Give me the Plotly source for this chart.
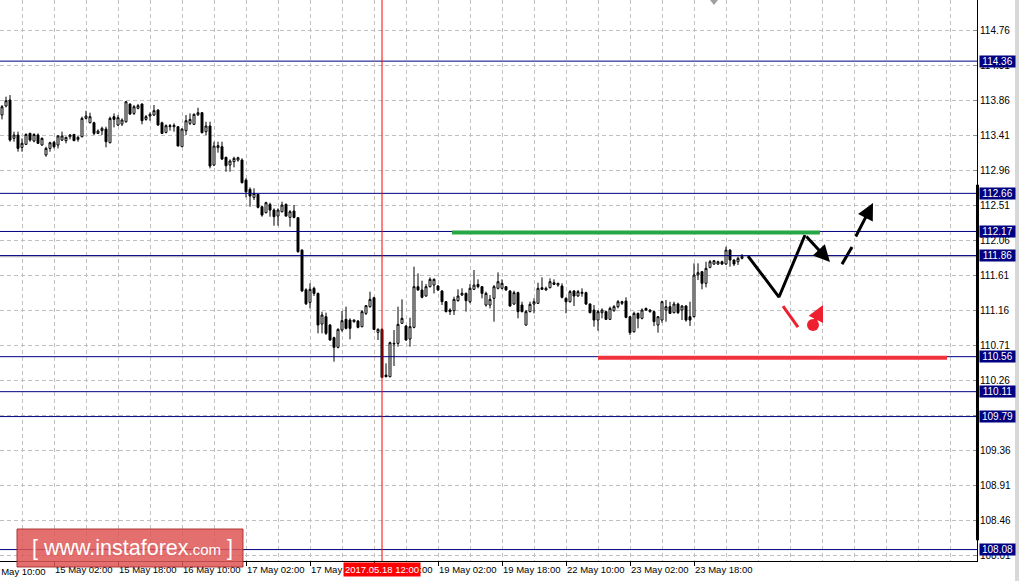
import plotly.graph_objects as go

# ---------------- data (USD/JPY H1) ----------------
open_ = [113.667,113.783,113.860,113.367,113.410,113.251,113.290,113.431,113.333,113.410,
         113.281,113.153,113.238,113.316,113.281,113.345,113.337,113.388,113.418,113.354,
         113.388,113.624,113.568,113.568,113.431,113.466,113.487,113.311,113.646,113.538,
         113.551,113.581,113.808,113.688,113.753,113.808,113.611,113.654,113.667,113.731,
         113.568,113.444,113.517,113.517,113.517,113.260,113.466,113.560,113.547,113.671,
         113.697,113.453,113.526,113.024,113.247,113.260,113.123,113.024,113.067,113.088,
         113.088,112.831,112.711,112.608,112.647,112.488,112.411,112.518,112.445,112.368,
         112.424,112.518,112.351,112.433,112.347,111.931,111.420,111.258,111.439,111.374,
         110.980,111.074,110.967,110.804,110.680,110.903,111.040,111.031,111.010,111.019,
         110.946,111.117,111.203,111.318,110.873,110.911,110.324,110.303,110.723,110.731,
         110.989,110.954,110.787,110.937,111.460,111.417,111.340,111.460,111.481,111.469,
         111.404,111.267,111.160,111.151,111.280,111.353,111.374,111.267,111.426,111.490,
         111.460,111.224,111.224,111.310,111.439,111.439,111.460,111.404,111.237,111.383,
         111.224,110.967,111.139,111.237,111.246,111.447,111.417,111.447,111.511,111.481,
         111.469,111.310,111.267,111.404,111.340,111.374,111.383,111.237,111.160,111.031,
         111.126,111.139,111.040,111.151,111.203,111.246,111.276,111.074,110.881,111.117,
         111.053,111.181,111.139,111.139,110.967,111.031,111.160,111.203,111.126,111.237,
         111.160,111.211,111.074,111.074,111.610,111.653,111.503,111.709,111.751,111.751,
         111.781,111.751,111.931,111.803,111.781,111.824]
high = [113.796,113.903,113.924,113.453,113.453,113.367,113.431,113.440,113.431,113.431,
        113.380,113.260,113.324,113.333,113.410,113.453,113.388,113.423,113.423,113.397,
        113.646,113.723,113.697,113.581,113.483,113.517,113.517,113.646,113.688,113.667,
        113.624,113.847,113.817,113.796,113.808,113.817,113.667,113.701,113.796,113.740,
        113.581,113.547,113.551,113.560,113.526,113.496,113.667,113.688,113.688,113.761,
        113.706,113.581,113.581,113.324,113.324,113.324,113.131,113.097,113.131,113.131,
        113.110,112.853,112.737,112.724,112.660,112.497,112.553,112.540,112.467,112.467,
        112.553,112.531,112.445,112.510,112.351,111.940,111.439,111.503,111.460,111.383,
        111.139,111.126,110.980,110.817,110.924,111.147,111.203,111.053,111.040,111.031,
        111.160,111.224,111.396,111.331,110.924,110.924,110.474,110.753,110.903,111.203,
        111.297,110.967,111.061,111.717,111.631,111.537,111.494,111.580,111.567,111.481,
        111.417,111.276,111.181,111.331,111.426,111.439,111.383,111.494,111.674,111.554,
        111.469,111.396,111.353,111.481,111.644,111.554,111.469,111.417,111.409,111.396,
        111.267,111.160,111.267,111.310,111.511,111.580,111.460,111.567,111.554,111.511,
        111.503,111.323,111.417,111.417,111.417,111.439,111.396,111.246,111.224,111.160,
        111.181,111.151,111.203,111.224,111.289,111.280,111.323,111.083,111.139,111.126,
        111.181,111.190,111.169,111.151,111.083,111.280,111.289,111.267,111.267,111.254,
        111.224,111.224,111.267,111.760,111.760,111.661,111.781,111.803,111.803,111.794,
        111.794,111.974,111.940,111.811,111.846,111.880]
low = [113.611,113.766,113.324,113.324,113.196,113.196,113.281,113.324,113.316,113.294,
       113.273,113.131,113.196,113.238,113.238,113.333,113.303,113.354,113.333,113.324,
       113.380,113.611,113.560,113.410,113.423,113.410,113.251,113.303,113.508,113.526,
       113.526,113.568,113.667,113.667,113.740,113.547,113.594,113.594,113.654,113.530,
       113.423,113.431,113.466,113.453,113.268,113.260,113.410,113.538,113.538,113.654,
       113.431,113.410,112.981,113.011,113.183,113.088,112.938,112.938,112.994,113.067,
       112.788,112.608,112.488,112.574,112.467,112.360,112.403,112.360,112.244,112.244,
       112.415,112.360,112.231,112.338,111.897,111.396,111.224,111.181,111.340,110.860,
       110.860,110.840,110.766,110.496,110.667,110.881,110.911,110.783,110.997,110.924,
       110.937,111.096,111.190,110.903,110.774,110.290,110.294,110.294,110.440,110.689,
       110.980,110.766,110.689,110.924,111.409,111.310,111.331,111.451,111.374,111.409,
       111.224,111.130,111.096,111.096,111.267,111.340,111.139,111.246,111.417,111.439,
       111.310,111.203,111.181,111.010,111.426,111.426,111.409,111.203,111.224,111.053,
       111.130,110.959,111.130,111.117,111.237,111.417,111.409,111.439,111.481,111.460,
       111.310,111.117,111.254,111.211,111.331,111.331,111.224,111.117,110.946,110.894,
       111.053,111.031,111.031,111.139,111.181,111.224,111.053,110.838,110.869,110.924,
       111.040,111.147,111.126,110.954,110.869,110.997,111.010,111.109,111.117,111.109,
       111.031,111.010,110.954,111.066,111.546,111.426,111.451,111.696,111.739,111.739,
       111.739,111.739,111.717,111.726,111.739,111.811]
close = [113.774,113.851,113.345,113.410,113.238,113.303,113.418,113.345,113.418,113.303,
         113.367,113.238,113.311,113.260,113.397,113.397,113.380,113.410,113.337,113.380,
         113.624,113.654,113.646,113.431,113.461,113.496,113.324,113.624,113.611,113.633,
         113.603,113.838,113.680,113.774,113.787,113.594,113.646,113.676,113.723,113.538,
         113.431,113.530,113.530,113.534,113.268,113.487,113.594,113.611,113.676,113.697,
         113.440,113.526,113.011,113.268,113.273,113.101,113.015,113.075,113.110,113.118,
         112.797,112.681,112.626,112.660,112.480,112.381,112.540,112.445,112.360,112.445,
         112.510,112.368,112.424,112.351,111.910,111.404,111.240,111.426,111.374,110.967,
         111.096,110.860,110.774,110.680,110.911,111.023,110.924,110.924,111.031,110.937,
         111.139,111.216,111.297,110.911,110.911,110.294,110.303,110.740,110.731,110.976,
         111.053,110.774,110.946,111.460,111.417,111.323,111.460,111.554,111.554,111.417,
         111.267,111.139,111.139,111.297,111.340,111.374,111.280,111.439,111.481,111.460,
         111.374,111.374,111.297,111.460,111.524,111.503,111.417,111.211,111.383,111.139,
         111.139,111.139,111.233,111.267,111.439,111.426,111.439,111.524,111.490,111.503,
         111.323,111.267,111.396,111.340,111.396,111.387,111.237,111.126,111.031,111.139,
         111.160,111.040,111.181,111.203,111.267,111.267,111.066,110.869,111.117,111.053,
         111.160,111.160,111.160,111.010,111.074,111.267,111.203,111.117,111.237,111.126,
         111.211,111.031,111.031,111.610,111.640,111.503,111.696,111.781,111.794,111.781,
         111.751,111.931,111.803,111.751,111.824,111.850]
bars = list(range(len(close)))          # one bar per hour

# time axis labels (bar index -> label)
tick_bars = [13, 29, 45, 61, 77, 93, 109, 125, 141, 157, 173]
tick_labels = ["15 May 02:00", "15 May 18:00", "16 May 10:00", "17 May 02:00",
               "17 May 18:00", "18 May 10:00", "19 May 02:00", "19 May 18:00",
               "22 May 10:00", "23 May 02:00", "23 May 18:00"]
first_label = "12 May 10:00"
grid_minor = [5, 21, 37, 53, 69, 85, 101, 117, 133, 149, 165, 181, 189, 197,
              205, 213, 221, 229, 237]

price_ticks = [108.01, 108.46, 108.91, 109.36, 109.81, 110.26, 110.71, 111.16,
               111.61, 112.06, 112.51, 112.96, 113.41, 113.86, 114.31, 114.76]

levels = [114.36, 112.66, 112.17, 111.86, 110.56, 110.11, 109.79, 108.08]
bid = 111.845
marker_bar = 95
marker_label = "2017.05.18 12:00"

# forecast drawing (bar, price)
main_path_x = [186.5, 194.25, 200.75]
main_path_y = [111.854, 111.327, 112.124]
main_arrow = (207.0, 111.777)
alt_dash_x = [210.0, 212.5]
alt_dash_y = [111.75, 111.97]
alt_arrow_tail = (213.25, 112.086)
alt_arrow_head = (217.75, 112.536)
red_seg_x = [195.25, 199.0]
red_seg_y = [111.21, 110.94]
red_arrow_tail = (202.75, 110.967)
red_arrow_head = (205.25, 111.224)
green_line = (112.5, 204.5, 112.157)
red_line = (149.0, 236.25, 110.546)

FONT = "Tahoma, Liberation Sans, Arial, sans-serif"
GRID = "#c0c0c0"
NAVY = "#000080"

fig = go.Figure()
fig.add_trace(go.Candlestick(
    x=bars, open=open_, high=high, low=low, close=close,
    increasing=dict(line=dict(color="black", width=1), fillcolor="white"),
    decreasing=dict(line=dict(color="black", width=1), fillcolor="black"),
    whiskerwidth=0, hoverinfo="skip", showlegend=False))

fig.add_trace(go.Scatter(x=main_path_x, y=main_path_y, mode="lines",
                         line=dict(color="black", width=3), hoverinfo="skip",
                         showlegend=False))
fig.add_trace(go.Scatter(x=alt_dash_x, y=alt_dash_y, mode="lines",
                         line=dict(color="black", width=3), hoverinfo="skip",
                         showlegend=False))
fig.add_trace(go.Scatter(x=red_seg_x, y=red_seg_y, mode="lines",
                         line=dict(color="#ee2030", width=3), hoverinfo="skip",
                         showlegend=False))
fig.add_trace(go.Scatter(x=[red_arrow_tail[0]], y=[red_arrow_tail[1]], mode="markers",
                         marker=dict(color="#ee2030", size=12), hoverinfo="skip",
                         showlegend=False))

shapes = []
for v in levels:
    shapes.append(dict(type="line", xref="paper", x0=0, x1=1, yref="y", y0=v, y1=v,
                       line=dict(color=NAVY, width=1)))
shapes.append(dict(type="line", xref="paper", x0=0, x1=1, yref="y", y0=bid, y1=bid,
                   line=dict(color="#b0b0b0", width=1), layer="below"))
shapes.append(dict(type="line", xref="x", x0=marker_bar, x1=marker_bar, yref="paper",
                   y0=0, y1=1, line=dict(color="red", width=1)))
shapes.append(dict(type="line", xref="x", x0=green_line[0], x1=green_line[1], yref="y",
                   y0=green_line[2], y1=green_line[2], line=dict(color="#28a745", width=4)))
shapes.append(dict(type="line", xref="x", x0=red_line[0], x1=red_line[1], yref="y",
                   y0=red_line[2], y1=red_line[2], line=dict(color="#f0323c", width=4)))
# chart-shift marker at top
shapes.append(dict(type="path", xref="x", yref="paper",
                   path="M 177,1 L 179,1 L 178,0.991 Z",
                   fillcolor="#a0a0a0", line=dict(width=0)))
# thick right-edge bar
shapes.append(dict(type="line", xref="paper", x0=1.0005, x1=1.0005, yref="y",
                   y0=108.2, y1=112.77, line=dict(color="black", width=3)))
# right grey border
shapes.append(dict(type="rect", xref="paper", x0=1015 / 977, x1=1019 / 977,
                   yref="paper", y0=-20 / 561, y1=1, fillcolor="#d8d8d8",
                   line=dict(width=0)))
# watermark box
shapes.append(dict(type="rect", xref="paper", x0=17 / 977, x1=243 / 977,
                   yref="paper", y0=(561 - 567) / 561, y1=(561 - 529) / 561,
                   fillcolor="rgba(222,86,86,0.85)",
                   line=dict(color="rgba(170,40,40,0.9)", width=1)))

annotations = []
for v in levels:
    annotations.append(dict(xref="paper", x=1, yref="y", y=v, xanchor="left",
                            xshift=2, text=f"{v:.2f}", showarrow=False,
                            bgcolor=NAVY, borderpad=0, width=35,
                            font=dict(color="white", size=10, family=FONT)))
annotations.append(dict(xref="x", x=marker_bar, yref="paper", y=0, yanchor="top",
                        yshift=-1, text=marker_label, showarrow=False, bgcolor="red",
                        borderpad=1, font=dict(color="white", size=9.5, family=FONT)))
annotations.append(dict(xref="x", x=0, yref="paper", y=0, yanchor="top", xanchor="left",
                        xshift=-16, yshift=-3, text=first_label, showarrow=False,
                        font=dict(color="black", size=9.5, family=FONT)))
annotations.append(dict(xref="paper", x=132 / 977, xanchor="center",
                        yref="paper", y=(561 - 548) / 561, yanchor="middle",
                        text="[ www.instaforex<span style='font-size:15px'>.com</span> ]",
                        showarrow=False, font=dict(color="white", size=21.5, family=FONT)))
# arrows
annotations.append(dict(xref="x", yref="y", x=main_arrow[0], y=main_arrow[1],
                        axref="x", ayref="y", ax=main_path_x[-1], ay=main_path_y[-1],
                        text="", showarrow=True, arrowhead=2, arrowsize=1.1,
                        arrowwidth=3, arrowcolor="black"))
annotations.append(dict(xref="x", yref="y", x=alt_arrow_head[0], y=alt_arrow_head[1],
                        axref="x", ayref="y", ax=alt_arrow_tail[0], ay=alt_arrow_tail[1],
                        text="", showarrow=True, arrowhead=2, arrowsize=1.1,
                        arrowwidth=3, arrowcolor="black"))
annotations.append(dict(xref="x", yref="y", x=red_arrow_head[0], y=red_arrow_head[1],
                        axref="x", ayref="y", ax=red_arrow_tail[0], ay=red_arrow_tail[1],
                        text="", showarrow=True, arrowhead=2, arrowsize=0.8,
                        arrowwidth=4, arrowcolor="#ee2030"))

fig.update_layout(
    width=1019, height=581,
    margin=dict(l=0, r=42, t=0, b=20),
    paper_bgcolor="white", plot_bgcolor="white",
    showlegend=False,
    shapes=shapes, annotations=annotations,
    xaxis=dict(range=[-0.5, 243.75], tickmode="array", tickvals=tick_bars,
               ticktext=tick_labels, ticklabelposition="outside right",
               tickangle=0,
               ticks="outside", ticklen=4, tickcolor="black",
               showline=True, linecolor="black", linewidth=1,
               showgrid=True, gridcolor=GRID, griddash="4px,3px", gridwidth=1,
               minor=dict(tickvals=grid_minor, showgrid=True, gridcolor=GRID,
                          griddash="4px,3px", ticks=""),
               zeroline=False, automargin=False, rangeslider=dict(visible=False),
               tickfont=dict(size=9.5, color="black", family=FONT)),
    yaxis=dict(range=[107.933, 115.146], side="right", tickmode="array",
               tickvals=price_ticks, ticktext=[f"{v:.2f}" for v in price_ticks],
               ticks="inside", ticklen=4, tickcolor="#909090",
               showline=True, linecolor="black", linewidth=1,
               showgrid=True, gridcolor=GRID, griddash="4px,3px", gridwidth=1,
               zeroline=False, automargin=False,
               tickfont=dict(size=10, color="black", family=FONT)),
)

fig.write_html("out.html", config={"displayModeBar": False},
               post_script="document.body.style.margin='0';document.body.style.overflow='hidden';")
